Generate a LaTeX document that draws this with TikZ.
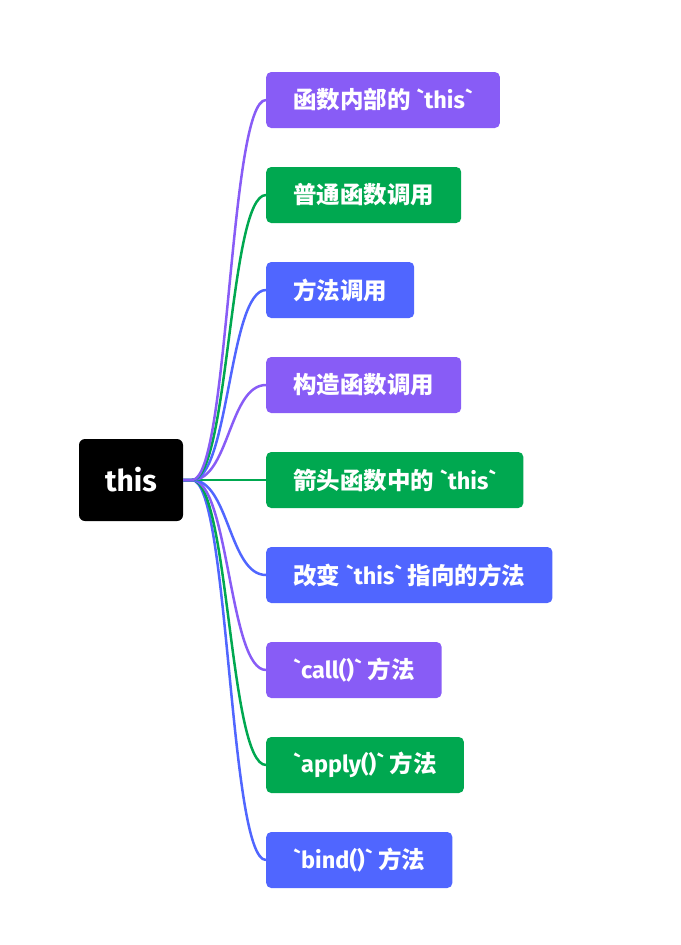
\documentclass[tikz,border=0pt]{standalone}
\usepackage{fontspec}
\setmainfont{Noto Sans CJK SC}[Ligatures=TeXOff]
\newfontfamily\latinfont{Fira Sans}[Ligatures=TeXOff]
\usepackage{tikz}
\usetikzlibrary{calc}
\definecolor{leafpurple}{RGB}{136,92,246}
\definecolor{leafgreen}{RGB}{0,168,80}
\definecolor{leafblue}{RGB}{80,102,255}
\newcommand{\lat}[1]{{\latinfont #1}}
\tikzset{
  base/.style={text=white, inner sep=0pt, font=\bfseries\fontsize{23.5}{28}\selectfont},
  rootbox/.style={base, rectangle, rounded corners=6pt, fill=black, minimum width=104pt, minimum height=82pt, font=\latinfont\bfseries\fontsize{30}{36}\selectfont},
  leaf/.style={base, rectangle, rounded corners=5pt, fill=#1, minimum height=56pt, inner xsep=27pt, anchor=west},
  link/.style={line width=2.5pt, draw=#1},
}
\begin{document}
\begin{tikzpicture}[x=1pt,y=-1pt]
  \useasboundingbox (0,0) rectangle (680,945);
  \node[rootbox] (root) at (131,480) {this};
  \coordinate (hub) at (192,480);
  \coordinate (mid) at (229,480);
  \node[leaf=leafpurple] (inner)  at (266,100) {函数内部的\lat{ `this`}};
  \node[leaf=leafgreen]  (plain)  at (266,195) {普通函数调用};
  \node[leaf=leafblue]   (method) at (266,290) {方法调用};
  \node[leaf=leafpurple] (ctor)   at (266,385) {构造函数调用};
  \node[leaf=leafgreen]  (arrow)  at (266,480) {箭头函数中的\lat{ `this`}};
  \node[leaf=leafblue]   (change) at (266,575) {改变\lat{ `this` }指向的方法};
  \node[leaf=leafpurple] (call)   at (266,670) {\lat{`call()` }方法};
  \node[leaf=leafgreen]  (apply)  at (266,765) {\lat{`apply()` }方法};
  \node[leaf=leafblue]   (bind)   at (266,860) {\lat{`bind()` }方法};
  % links, bottom first so the stub ends up purple
  \draw[link=leafblue]   (root.east) -- (hub) .. controls (mid) and (mid |- bind.west) .. (bind.west);
  \draw[link=leafgreen]  (root.east) -- (hub) .. controls (mid) and (mid |- apply.west) .. (apply.west);
  \draw[link=leafpurple] (root.east) -- (hub) .. controls (mid) and (mid |- call.west) .. (call.west);
  \draw[link=leafblue]   (root.east) -- (hub) .. controls (mid) and (mid |- change.west) .. (change.west);
  \draw[link=leafgreen]  (root.east) -- (arrow.west);
  \draw[link=leafpurple] (root.east) -- (hub) .. controls (mid) and (mid |- ctor.west) .. (ctor.west);
  \draw[link=leafblue]   (root.east) -- (hub) .. controls (mid) and (mid |- method.west) .. (method.west);
  \draw[link=leafgreen]  (root.east) -- (hub) .. controls (mid) and (mid |- plain.west) .. (plain.west);
  \draw[link=leafpurple] (root.east) -- (hub) .. controls (mid) and (mid |- inner.west) .. (inner.west);
\end{tikzpicture}
\end{document}
